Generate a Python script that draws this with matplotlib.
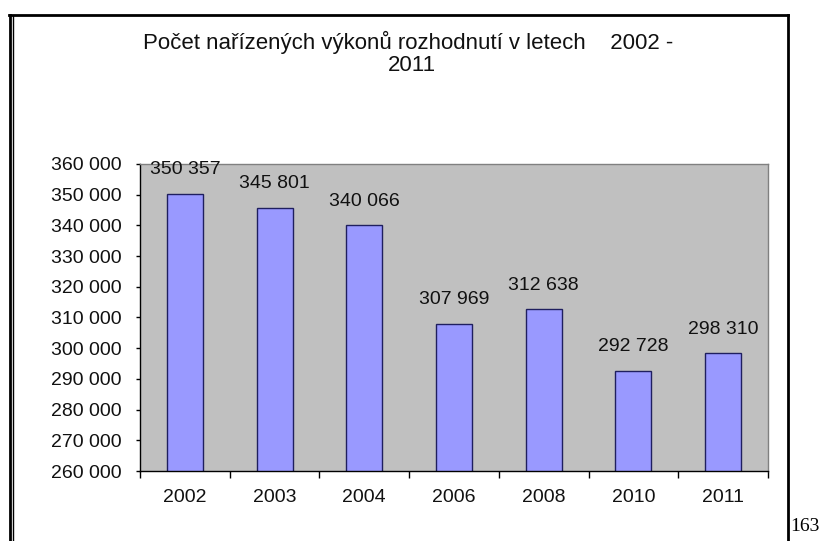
import matplotlib
matplotlib.use("Agg")
import matplotlib.pyplot as plt
from matplotlib.lines import Line2D
from matplotlib.ticker import FuncFormatter

years = ["2002", "2003", "2004", "2006", "2008", "2010", "2011"]
counts = [350357, 345801, 340066, 307969, 312638, 292728, 298310]
y_ticks = list(range(260000, 360001, 10000))

W, H = 821, 541
plt.rcParams["font.family"] = ["Liberation Sans", "DejaVu Sans"]

fig = plt.figure(figsize=(W / 100, H / 100), dpi=100)
fig.patch.set_facecolor("white")


def fx(px):
    return px / W


def fy(py):
    return 1 - py / H


ax = fig.add_axes([fx(140), fy(471), fx(768) - fx(140), fy(164) - fy(471)])
ax.set_facecolor("#C0C0C0")

xs = list(range(len(years)))
ax.bar(xs, counts, width=0.4, color="#9999FF", edgecolor="#1F1F5F",
       linewidth=1.0, zorder=2)

fmt = lambda v: f"{int(v):,}".replace(",", " ")
for x, v in zip(xs, counts):
    ax.annotate(fmt(v), (x, v), xytext=(0, 11), textcoords="offset points",
                ha="center", va="bottom", fontsize=14, color="#111111")

ax.set_xlim(-0.5, len(years) - 0.5)
ax.set_ylim(260000, 360000)
ax.set_yticks(y_ticks)
ax.yaxis.set_major_formatter(FuncFormatter(lambda v, p: fmt(v)))
ax.set_xticks(xs)
ax.set_xticklabels(years)
ax.set_xticks([i - 0.5 for i in range(len(years) + 1)], minor=True)
ax.tick_params(axis="x", which="major", length=0, pad=13, labelsize=14,
               colors="#111111")
ax.tick_params(axis="x", which="minor", length=5, width=1, direction="out",
               color="black")
ax.tick_params(axis="y", length=3, width=1, pad=10, labelsize=14,
               color="black", labelcolor="#111111")

for s in ("top", "right"):
    ax.spines[s].set_color("#808080")
    ax.spines[s].set_linewidth(1.0)
for s in ("left", "bottom"):
    ax.spines[s].set_color("black")
    ax.spines[s].set_linewidth(1.0)

fig.text(fx(408), fy(49), "Počet nařízených výkonů rozhodnutí v letech    2002 -",
         ha="center", va="baseline", fontsize=16, color="#111111")
fig.text(fx(412), fy(71), "2011", ha="center", va="baseline", fontsize=16,
         color="#111111")

# page frame around the chart
frame = [
    ((10, 10), (15, H), 2.0),
    ((13, 13), (16, H), 1.0),
    ((9, 788), (15, 15), 2.0),
    ((787.5, 787.5), (15, H), 2.0),
]
for (x0, x1), (y0, y1), lw in frame:
    fig.add_artist(Line2D([fx(x0), fx(x1)], [fy(y0), fy(y1)], color="black",
                          linewidth=lw, transform=fig.transFigure))

fig.text(fx(790), fy(531), "163", ha="left", va="baseline", fontsize=14,
         family=["Liberation Serif", "DejaVu Serif"], color="black")

fig.savefig("out.png", dpi=100)
